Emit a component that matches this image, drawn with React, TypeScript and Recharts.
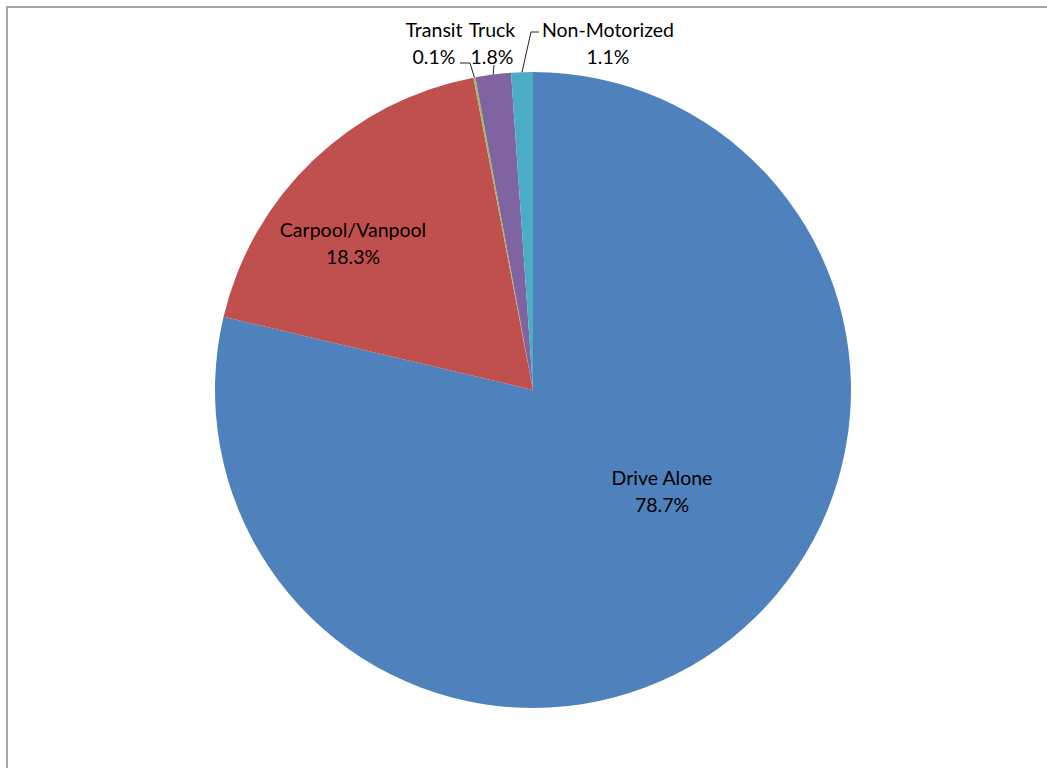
import { PieChart, Pie, Cell } from "recharts";

// mode share, percent of trips
const modes = ["Drive Alone", "Carpool/Vanpool", "Transit", "Truck", "Non-Motorized"];
const shares = [78.7, 18.3, 0.1, 1.8, 1.1];
const colors = ["#4F81BD", "#C0504D", "#9BBB59", "#8064A2", "#4BACC6"];

const data = modes.map((name, i) => ({ name, value: shares[i] }));

// label centres (and leader bends) relative to the pie centre, like manual Excel placement
const labelSpots: Record<string, { dx: number; dy: number; leader?: Array<[number, number]> }> = {
    "Drive Alone": { dx: 129, dy: 100 },
    "Carpool/Vanpool": { dx: -180, dy: -148 },
    Transit: { dx: -99, dy: -348, leader: [[-63, -327], [-73, -327]] },
    Truck: { dx: -41, dy: -348, leader: [[-39, -325]] },
    "Non-Motorized": { dx: 75, dy: -348, leader: [[-2, -358], [6, -358]] },
};

const RAD = Math.PI / 180;
const FONT = "Lato, 'Open Sans', sans-serif";

const renderLabel = (props: any) => {
    const { cx, cy, midAngle, outerRadius, name, value } = props;
    const spot = labelSpots[name];
    if (!spot) return null;
    const x = cx + spot.dx;
    const y = cy + spot.dy;
    let leader = null;
    if (spot.leader) {
        const ex = cx + outerRadius * Math.cos(-midAngle * RAD);
        const ey = cy + outerRadius * Math.sin(-midAngle * RAD);
        const pts = [[ex, ey], ...spot.leader.map(([a, b]) => [cx + a, cy + b])];
        leader = (
            <polyline
                points={pts.map((p) => p.join(",")).join(" ")}
                fill="none"
                stroke="#222"
                strokeWidth={1}
            />
        );
    }
    return (
        <g>
            {leader}
            <text x={x} y={y - 13} textAnchor="middle" dominantBaseline="central" fill="#000" fontSize={19.5} fontFamily={FONT}>
                {name}
            </text>
            <text x={x} y={y + 14} textAnchor="middle" dominantBaseline="central" fill="#000" fontSize={19.5} fontFamily={FONT}>
                {value.toFixed(1)}%
            </text>
        </g>
    );
};

export default function App() {
    return (
        <div style={{ position: "absolute", left: 0, top: 0, width: 1047, height: 768, overflow: "hidden", background: "#fff" }}>
            <div
                style={{
                    position: "absolute",
                    left: 6,
                    top: 6,
                    width: 1100,
                    height: 800,
                    borderLeft: "2px solid #a6a6a6",
                    borderTop: "2px solid #a6a6a6",
                }}
            />
            <div style={{ position: "absolute", left: 0, top: 0 }}>
                <PieChart width={1047} height={768} margin={{ top: 0, right: 0, bottom: 0, left: 0 }}>
                    <Pie
                        data={data}
                        dataKey="value"
                        nameKey="name"
                        cx={533}
                        cy={390}
                        outerRadius={318}
                        startAngle={90}
                        endAngle={-270}
                        stroke="none"
                        label={renderLabel}
                        labelLine={false}
                        isAnimationActive={false}
                    >
                        {data.map((d, i) => (
                            <Cell key={d.name} fill={colors[i]} stroke="none" />
                        ))}
                    </Pie>
                </PieChart>
            </div>
        </div>
    );
}
